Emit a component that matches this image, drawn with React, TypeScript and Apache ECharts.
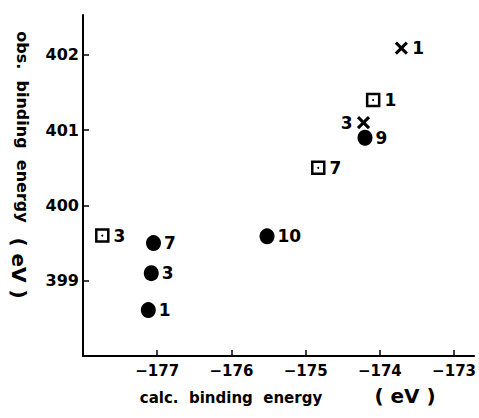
import React, { useEffect, useRef } from "react";
import * as echarts from "echarts";

const circleX = [-177.12, -177.08, -177.05, -175.52, -174.2];
const circleY = [398.61, 399.1, 399.5, 399.59, 400.9];
const circleLabels = ["1", "3", "7", "10", "9"];

const squareX = [-177.74, -174.83, -174.09];
const squareY = [399.6, 400.5, 401.4];
const squareLabels = ["3", "7", "1"];

const crossX = [-174.22, -173.71];
const crossY = [401.1, 402.09];
const crossLabels = ["3", "1"];
const crossLabelPos = ["left", "right"];

const xTickMin = -178;
const xTickMax = -172.73;
const yTickMin = 398;
const yTickMax = 402.53;

const xTitle = "calc.  binding  energy";
const yTitle = "obs.  binding  energy";
const unitText = "( eV )";

const FONT = "'DejaVu Sans', Verdana, sans-serif";
const INK = "#000";

export default function App() {
  const ref = useRef<HTMLDivElement>(null);
  useEffect(() => {
    if (!ref.current) return;
    const chart = echarts.init(ref.current, null, { renderer: "svg" });
    const labelStyle = {
      show: true,
      color: INK,
      fontFamily: FONT,
      fontWeight: "bold" as const,
      fontSize: 17,
      distance: 3,
    };
    const mk = (xs: number[], ys: number[], labels: string[]) =>
      xs.map((x, i) => ({ value: [x, ys[i]], name: labels[i] }));
    chart.setOption({
      animation: false,
      backgroundColor: "#fff",
      grid: { left: 83, top: 15, right: 0, bottom: 62, containLabel: false },
      xAxis: {
        type: "value",
        min: xTickMin,
        max: xTickMax,
        interval: 1,
        splitLine: { show: false },
        axisLine: { show: true, onZero: false, lineStyle: { color: INK, width: 2 } },
        axisTick: { show: true, inside: true, length: 6, lineStyle: { color: INK, width: 1.5 } },
        axisLabel: {
          show: true,
          showMinLabel: false,
          showMaxLabel: false,
          margin: 7,
          color: INK,
          fontFamily: FONT,
          fontWeight: "bold",
          fontSize: 15,
          formatter: (v: number) => (v < 0 ? "\u2212" + Math.abs(v) : String(v)),
        },
      },
      yAxis: {
        type: "value",
        min: yTickMin,
        max: yTickMax,
        interval: 1,
        splitLine: { show: false },
        axisLine: { show: true, onZero: false, lineStyle: { color: INK, width: 2 } },
        axisTick: { show: true, inside: true, length: 6, lineStyle: { color: INK, width: 1.5 } },
        axisLabel: {
          show: true,
          showMinLabel: false,
          showMaxLabel: false,
          margin: 4,
          color: INK,
          fontFamily: FONT,
          fontWeight: "bold",
          fontSize: 16,
        },
      },
      series: [
        {
          type: "scatter",
          symbol: "circle",
          symbolSize: [15, 16],
          itemStyle: { color: INK, opacity: 1 },
          label: { ...labelStyle, position: "right", formatter: "{b}" },
          data: mk(circleX, circleY, circleLabels),
        },
        {
          type: "scatter",
          symbol: "rect",
          symbolSize: 12,
          itemStyle: { color: "#fff", borderColor: INK, borderWidth: 2.5, opacity: 1 },
          label: { ...labelStyle, position: "right", distance: 4, formatter: "{b}" },
          data: mk(squareX, squareY, squareLabels),
        },
        {
          type: "scatter",
          symbol: "circle",
          symbolSize: 2,
          itemStyle: { color: INK, opacity: 1 },
          silent: true,
          data: mk(squareX, squareY, squareLabels),
        },
        {
          type: "scatter",
          symbol: "path://M0,0L10,10M10,0L0,10",
          symbolSize: 11,
          itemStyle: { color: "rgba(0,0,0,0)", borderColor: INK, borderWidth: 3, opacity: 1 },
          data: crossX.map((x, i) => ({
            value: [x, crossY[i]],
            name: crossLabels[i],
            label: { ...labelStyle, position: crossLabelPos[i], distance: 4, formatter: "{b}" },
          })),
        },
      ],
      graphic: [
        {
          type: "text",
          x: 231,
          y: 398,
          style: {
            text: xTitle,
            fill: INK,
            font: `bold 15px ${FONT}`,
            textAlign: "center",
            textVerticalAlign: "middle",
          },
        },
        {
          type: "text",
          x: 405,
          y: 396,
          style: {
            text: unitText,
            fill: INK,
            font: `bold 20px ${FONT}`,
            textAlign: "center",
            textVerticalAlign: "middle",
          },
        },
        {
          type: "text",
          x: 22,
          y: 127,
          rotation: -Math.PI / 2,
          style: {
            text: yTitle,
            fill: INK,
            font: `bold 16px ${FONT}`,
            textAlign: "center",
            textVerticalAlign: "middle",
          },
        },
        {
          type: "text",
          x: 19,
          y: 268,
          rotation: -Math.PI / 2,
          style: {
            text: unitText,
            fill: INK,
            font: `bold 20px ${FONT}`,
            textAlign: "center",
            textVerticalAlign: "middle",
          },
        },
      ],
    });
    return () => chart.dispose();
  }, []);
  return <div ref={ref} style={{ width: 479, height: 418, position: "absolute", left: 0, top: 0 }} />;
}
